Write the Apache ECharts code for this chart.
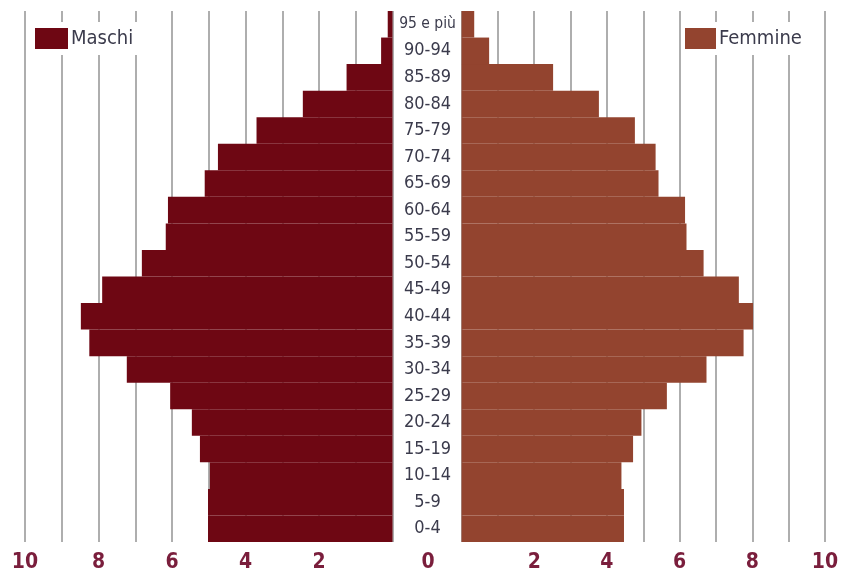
<!DOCTYPE html>
<html>
<head>
<meta charset="utf-8">
<script src="https://cdn.jsdelivr.net/npm/echarts@6/dist/echarts.min.js"></script>
<style>html,body{margin:0;padding:0;background:#fff}#c{width:851px;height:578px}</style>
</head>
<body>
<div id="c"></div>
<script>
const ages = ['0-4','5-9','10-14','15-19','20-24','25-29','30-34','35-39','40-44','45-49','50-54','55-59','60-64','65-69','70-74','75-79','80-84','85-89','90-94','95 e più'];
const maschi = [5.02,5.02,4.97,5.24,5.46,6.05,7.23,8.25,8.48,7.90,6.82,6.17,6.11,5.11,4.75,3.70,2.44,1.25,0.31,0.13];
const femmine = [4.47,4.47,4.40,4.72,4.95,5.65,6.74,7.76,8.02,7.63,6.66,6.19,6.15,5.42,5.34,4.77,3.78,2.52,0.76,0.35];
const xMin = 0, xMax = 10, xStep = 1;

const FONT = '"DejaVu Sans Condensed","Liberation Sans Narrow",sans-serif';
const maleColor = '#6e0713';
const femaleColor = '#93442f';
const tickColor = '#7a1e3c';
const textColor = '#3b3b4c';
const gridTop = 11, gridBottom = 36;

const chart = echarts.init(document.getElementById('c'), null, {renderer: 'canvas'});
const splitLine = {show: true, lineStyle: {color: '#9a9a9a', width: 1.6}};
chart.setOption({
  animation: false,
  backgroundColor: '#fff',
  legend: [
    {data: ['Maschi'], icon: 'rect', left: 33, top: 22, itemWidth: 33, itemHeight: 21, itemGap: 6,
     backgroundColor: '#fff', padding: [6, 12, 6, 2],
     textStyle: {fontFamily: FONT, fontSize: 20, color: textColor, padding: [0, 0, 0, -2]}},
    {data: ['Femmine'], icon: 'rect', left: 683, top: 22, itemWidth: 31, itemHeight: 21,
     backgroundColor: '#fff', padding: [6, 8, 6, 2],
     textStyle: {fontFamily: FONT, fontSize: 20, color: textColor, padding: [0, 0, 0, -2]}}
  ],
  grid: [
    {left: 25, width: 367.5, top: gridTop, bottom: gridBottom},
    {left: 461.5, width: 363.5, top: gridTop, bottom: gridBottom}
  ],
  xAxis: [
    {gridIndex: 0, type: 'value', inverse: true, min: xMin, max: xMax, interval: xStep,
     axisLine: {show: false}, axisTick: {show: false}, splitLine: splitLine,
     axisLabel: {margin: 10, fontFamily: FONT, fontSize: 21, fontWeight: 'bold', color: tickColor,
       formatter: v => (v === 0 || v % 2 !== 0) ? '' : String(v)}},
    {gridIndex: 1, type: 'value', min: xMin, max: xMax, interval: xStep,
     axisLine: {show: false}, axisTick: {show: false}, splitLine: splitLine,
     axisLabel: {margin: 10, fontFamily: FONT, fontSize: 21, fontWeight: 'bold', color: tickColor,
       formatter: v => v === 0 ? '{z|0}' : (v % 2 !== 0 ? '' : String(v)),
       rich: {z: {fontFamily: FONT, fontSize: 21, fontWeight: 'bold', color: tickColor, padding: [0, 67, 0, 0]}}}}
  ],
  yAxis: [
    {gridIndex: 0, type: 'category', data: ages, position: 'right',
     axisLine: {show: false}, axisTick: {show: false}, axisLabel: {show: false}},
    {gridIndex: 1, type: 'category', data: ages, position: 'left',
     axisLine: {show: false}, axisTick: {show: false},
     axisLabel: {margin: 34, align: 'center', fontFamily: FONT, fontSize: 18, color: textColor,
       formatter: v => v.length > 6 ? '{s|' + v + '}' : v,
       rich: {s: {fontFamily: FONT, fontSize: 15.5, color: textColor}}}}
  ],
  series: [
    {name: 'Maschi', type: 'bar', xAxisIndex: 0, yAxisIndex: 0, data: maschi,
     barCategoryGap: '0%', itemStyle: {color: maleColor}},
    {name: 'Femmine', type: 'bar', xAxisIndex: 1, yAxisIndex: 1, data: femmine,
     barCategoryGap: '0%', itemStyle: {color: femaleColor}}
  ]
});
</script>
</body>
</html>
